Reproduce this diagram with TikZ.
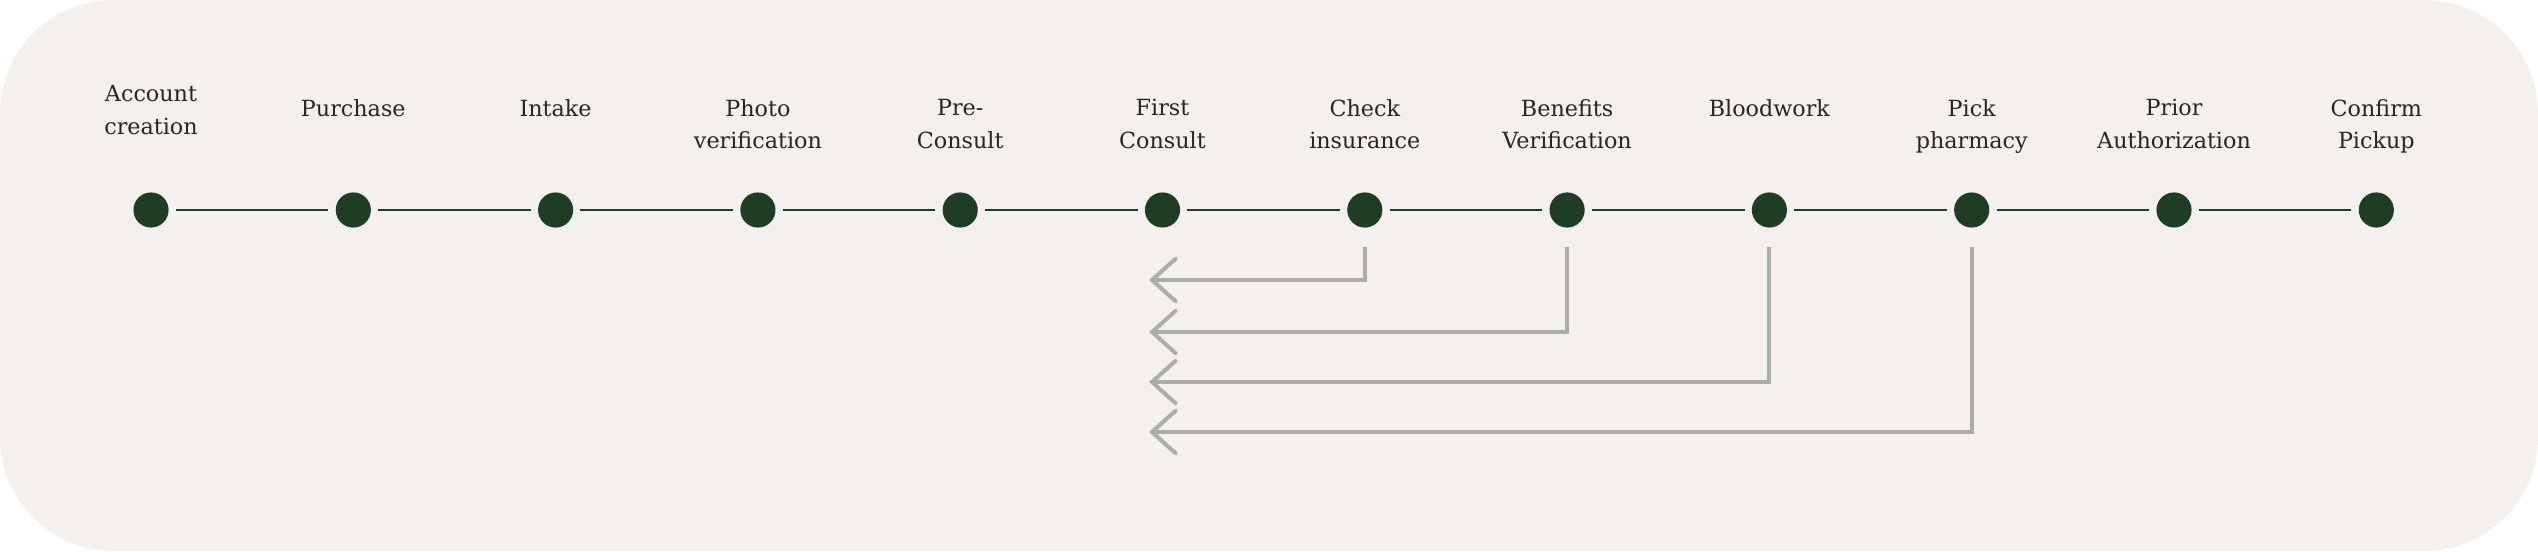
\documentclass[tikz,border=0pt]{standalone}
\usepackage{fontspec}
\setmainfont{DejaVu Serif}
\begin{document}
\begin{tikzpicture}[x=0.03cm,y=0.03cm,
 dot/.style={circle,fill=dkg,inner sep=0,minimum size=30},
 lab/.style={anchor=north,align=center,inner sep=0,font=\fontsize{19}{28}\selectfont,text=black!85},
 seg/.style={draw=dkg,line width=1.8pt,shorten <=6,shorten >=6},
 back/.style={draw=gry,line width=3.4pt,line join=miter,rounded corners=0}]
\definecolor{dkg}{HTML}{1F3D22}
\definecolor{gry}{HTML}{A9AEA6}
\definecolor{bg}{HTML}{F4F0ED}
\fill[bg,rounded corners=97] (0,0) rectangle (2538,551);
\useasboundingbox (0,0) rectangle (2538,551);
\foreach \i/\t in {0/Account\\creation,1/Purchase,2/Intake,3/Photo\\verification,4/Pre-\\Consult,5/First\\Consult,6/Check\\insurance,7/Benefits\\Verification,8/Bloodwork,9/Pick\\pharmacy,10/Prior\\Authorization,11/Confirm\\Pickup}{
  \node[dot] (d\i) at ({151+202.3*\i},341) {};
  \node[lab] (l\i) at ({151+202.3*\i},{\i==0?466:452}) {\t};
}
\foreach \i [evaluate=\i as \j using int(\i+1)] in {0,...,10}{
  \draw[seg] (d\i) -- (d\j);
}
\foreach \i/\yy in {6/280,7/332,8/382,9/432}{
  \coordinate (e\i) at (1152,551-\yy);
  \draw[back] ([yshift=-16]d\i.south) |- (e\i);
  \draw[gry,line width=3.4pt,line cap=round] ([xshift=20,yshift=18]e\i) -- (e\i) -- ([xshift=20,yshift=-18]e\i);
}
\end{tikzpicture}
\end{document}
